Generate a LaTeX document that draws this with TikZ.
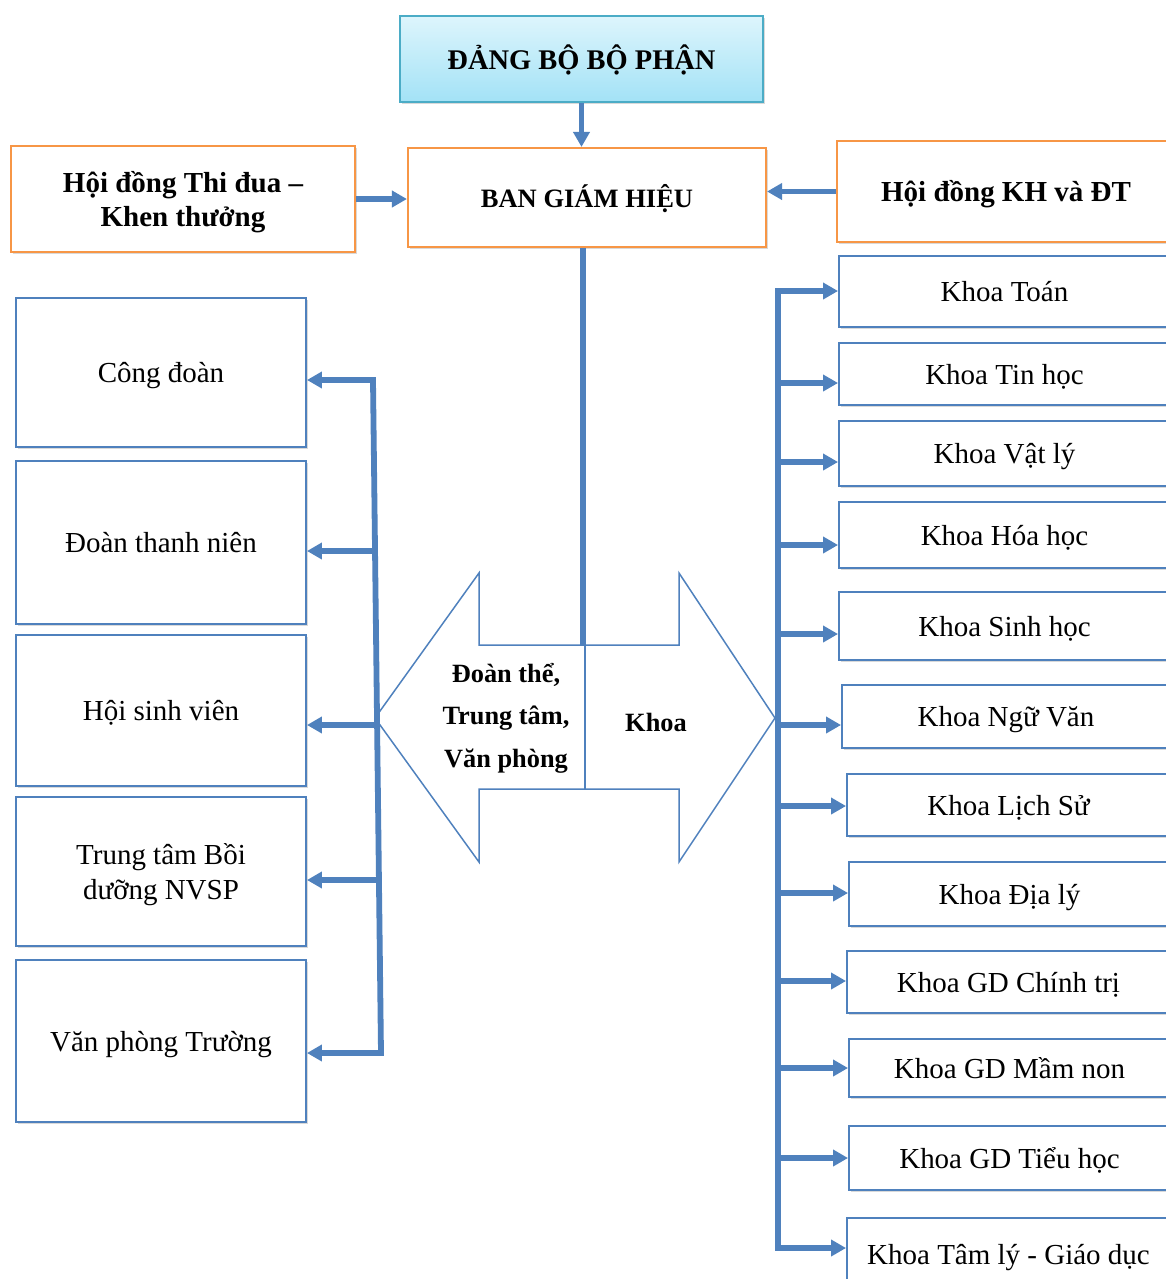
\documentclass[tikz,border=0pt]{standalone}
\usepackage{fontspec}
\setmainfont{Liberation Serif}
\usetikzlibrary{arrows.meta,shadows}
\definecolor{obl}{HTML}{4F81BD}
\definecolor{oor}{HTML}{F79646}
\definecolor{ocy}{HTML}{4BACC6}
\definecolor{cyt}{HTML}{DDF5FC}
\definecolor{cyb}{HTML}{A3E2F6}
\tikzset{
  shad/.style={drop shadow={shadow xshift=1.2pt,shadow yshift=-1.2pt,opacity=0.15,fill=black}},
  sz/.style 2 args={minimum width={(#1)*0.02cm},minimum height={(#2)*0.02cm}},
  oneline/.style={text height=11.5pt,text depth=-3.2pt},
  twoline/.style={text depth=-4pt},
  bbox/.style={draw=obl,line width=1.1pt,fill=white,inner sep=0pt,align=center,
    font=\fontsize{16.5}{19.6}\selectfont,shad},
  obox/.style={draw=oor,line width=1.2pt,fill=white,inner sep=0pt,align=center,
    font=\bfseries\fontsize{16.5}{19.6}\selectfont,shad},
  conn/.style={draw=obl,line width=3.3pt},
  tipA/.tip={Triangle[length=0.3cm,width=0.32cm]},
  arr/.style={conn,-tipA},
  dbl/.style={draw=obl,line width=0.85pt,fill=white},
  ctext/.style={align=center,inner sep=0pt,font=\bfseries\fontsize{15}{24.2}\selectfont},
}
\begin{document}
\begin{tikzpicture}[x=0.02cm,y=-0.02cm]
\useasboundingbox (0,0) rectangle (1166,1279);
\clip (0,0) rectangle (1166,1279);
\fill[white] (0,0) rectangle (1166,1279);

% top
\node[draw=ocy,line width=1.6pt,top color=cyt,bottom color=cyb,sz={363}{86},inner sep=0pt,
  font=\bfseries\fontsize{16.2}{19}\selectfont,text height=11.5pt,text depth=-3.5pt,shad] (top) at (581.5,59) {ĐẢNG BỘ BỘ PHẬN};
\node[obox,oneline,sz={358}{99},font=\bfseries\fontsize{15.1}{18}\selectfont] (bgh) at (587,197.5) {BAN GIÁM HIỆU};
\node[obox,twoline,sz={344}{106}] (td) at (183,199) {Hội đồng Thi đua –\\Khen thưởng};
\node[obox,oneline,sz={338}{101}] (kh) at (1006,191.5) {Hội đồng KH và ĐT};

\draw[arr] (top.south) -- (top.south |- bgh.north);
\draw[arr] (td.east) -- (bgh.west |- td.east);
\draw[arr] (kh.west) -- (bgh.east |- kh.west);

% left boxes
\node[bbox,oneline,sz={290}{149}] (cd) at (161,372.5) {Công đoàn};
\node[bbox,oneline,sz={290}{163}] (dtn) at (161,542.5) {Đoàn thanh niên};
\node[bbox,oneline,sz={290}{151}] (hsv) at (161,710.5) {Hội sinh viên};
\node[bbox,twoline,sz={290}{149}] (tt) at (161,871.5) {Trung tâm Bồi\\dưỡng NVSP};
\node[bbox,oneline,sz={290}{162}] (vp) at (161,1041) {Văn phòng Trường};

% double arrow
\path[dbl] (375,718) -- (479,573) -- (479,645) -- (679,645) -- (679,573) -- (775,718)
  -- (679,862) -- (679,789) -- (479,789) -- (479,862) -- cycle;
\coordinate (cb) at (583,645);
\coordinate (ct) at (585,645);
\coordinate (cm) at (585,789);
\draw[obl,line width=1.1pt] (ct) -- (cm);
\draw[conn] (cb |- bgh.south) -- (cb);
\node[ctext] (dt) at (506,718) {Đoàn thể,\\Trung tâm,\\Văn phòng};
\node[ctext] (kk) at (656,722) {Khoa};

% left bus
\coordinate (lt) at (373,380);
\coordinate (lb) at (381,1053);
\coordinate (l2) at (375,551);
\coordinate (l3) at (377,725);
\coordinate (l4) at (379,880);
\draw[conn,tipA-tipA] (vp.east |- lb) -- (lb) -- (lt) -- (cd.east |- lt);
\draw[arr] (l2) -- (dtn.east |- l2);
\draw[arr] (l3) -- (hsv.east |- l3);
\draw[arr] (l4) -- (tt.east |- l4);

% right boxes
\foreach \n/\xl/\yt/\yb/\ay/\txt in {
  1/839/256/327/291/Khoa Toán,
  2/839/343/405/383/Khoa Tin học,
  3/839/421/486/462/Khoa Vật lý,
  4/839/502/568/545/Khoa Hóa học,
  5/839/592/660/634/Khoa Sinh học,
  6/842/685/748/725/Khoa Ngữ Văn,
  7/847/774/836/806/Khoa Lịch Sử,
  8/849/862/926/893/Khoa Địa lý,
  9/847/951/1013/981/Khoa GD Chính trị,
  10/849/1039/1097/1068/Khoa GD Mầm non,
  11/849/1126/1190/1158/Khoa GD Tiểu học,
  12/847/1218/1290/1248/Khoa Tâm lý - Giáo dục}{
  \node[bbox,oneline,sz={1170-\xl}{\yb-\yt}] (k\n) at ({(\xl+1170)/2},{(\yt+\yb)/2}) {\txt};
  \coordinate (r\n) at (778,\ay);
}
\draw[conn,tipA-tipA] (r12 -| k12.west) -- (r12) -- (r1) -- (r1 -| k1.west);
\foreach \n in {2,...,11}{
  \draw[arr] (r\n) -- (r\n -| k\n.west);
}
\end{tikzpicture}
\end{document}
